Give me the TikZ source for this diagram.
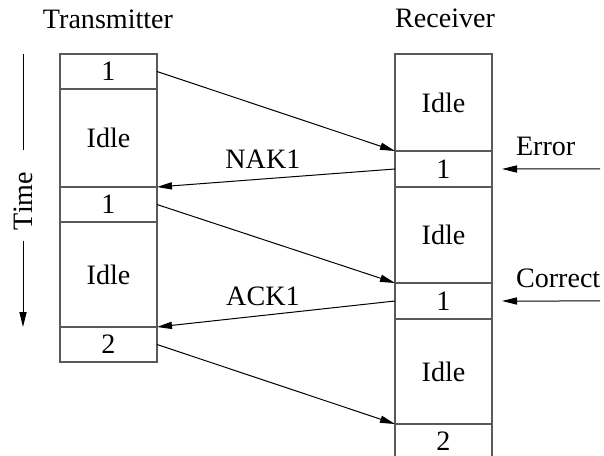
\documentclass[tikz,border=0pt]{standalone}
\usepackage{fontspec}
\setmainfont{Liberation Serif}
\usetikzlibrary{positioning,arrows.meta}

\begin{document}
\begin{tikzpicture}[x=0.5bp, y=-0.5bp,
    font=\fontsize{14.1}{16}\selectfont,
    cell/.style={draw=black!65, line width=0.6bp, minimum width=48.5bp, inner sep=0pt, outer sep=0pt},
    msg/.style={-{Triangle[length=7.5bp,width=3.6bp]}, line width=0.5bp}]
    \clip (0,0) rectangle (604,456);

    % Transmitter
    \node (tx) at (108,19) {Transmitter};
    \node[cell, minimum height=17.5bp] (t1) at (108.5,71.5) {1};
    \node[cell, minimum height=49bp, below=0pt of t1] (ti1) {Idle};
    \node[cell, minimum height=17.5bp, below=0pt of ti1] (t2) {1};
    \node[cell, minimum height=52.5bp, below=0pt of t2] (ti2) {Idle};
    \node[cell, minimum height=17.5bp, below=0pt of ti2] (t3) {2};

    % Receiver
    \node (rx) at (445,18) {Receiver};
    \node[cell, minimum height=48.5bp] (ri1) at (443.5,102.5) {Idle};
    \node[cell, minimum height=18bp, below=0pt of ri1] (r1) {1};
    \node[cell, minimum height=48bp, below=0pt of r1] (ri2) {Idle};
    \node[cell, minimum height=18bp, below=0pt of ri2] (r2) {1};
    \node[cell, minimum height=52.5bp, below=0pt of r2] (ri3) {Idle};
    \node[cell, minimum height=17.5bp, below=0pt of ri3] (r3) {2};

    % Time axis
    \node[rotate=90, inner sep=0pt] (time) at (23,201) {Time};
    \draw[line width=0.5bp] ([yshift=10.5bp]time.east) -- (time.east |- t1.north);
    \draw[msg] ([yshift=-5bp]time.west) -- (time.west |- t3.north);

    % Frames and replies
    \draw[msg] (t1.east) -- (r1.north west);
    \draw[msg] (r1.west) -- node[pos=0.555, above=1.5bp] (nak) {NAK1} (t2.north east);
    \draw[msg] (t2.east) -- (r2.north west);
    \draw[msg] (r2.west) -- node[pos=0.555, above=1.5bp] (ack) {ACK1} (t3.north east);
    \draw[msg] (t3.east) -- (r3.north west);

    % Receiver outcome
    \node[anchor=west] (err) at (509,146) {Error};
    \coordinate (errsrc) at (600,169);
    \draw[msg] (errsrc) -- ([xshift=5bp]r1.east);
    \node[anchor=west] (cor) at (509,278) {Correct};
    \coordinate (corsrc) at (600,301);
    \draw[msg] (corsrc) -- ([xshift=5bp]r2.east);
\end{tikzpicture}
\end{document}
